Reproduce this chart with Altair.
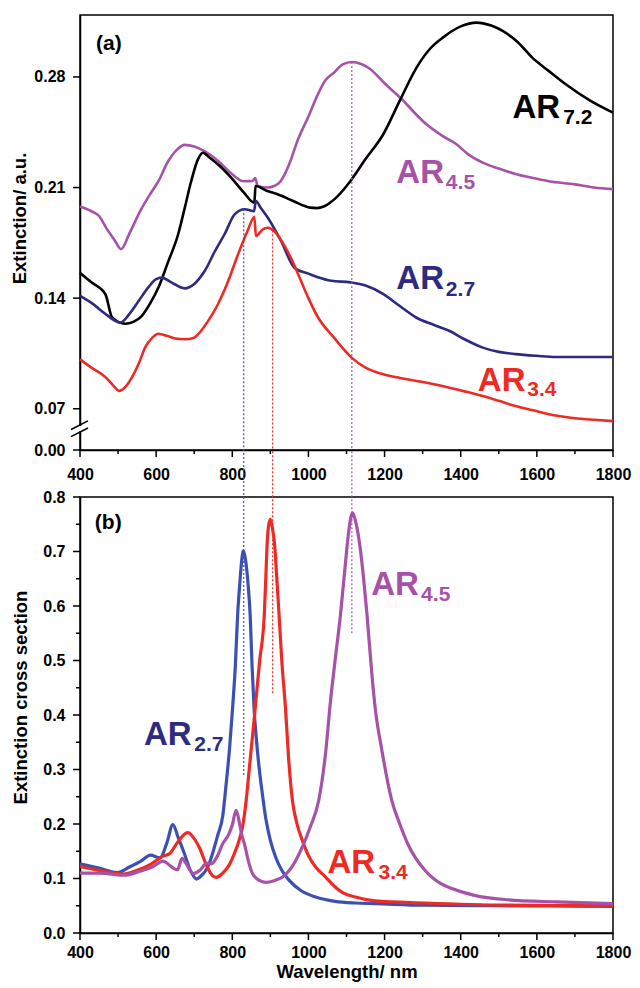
import altair as alt
import pandas as pd

FONT = "Liberation Sans"
PURPLE = "#A652A8"
BLACK = "#000000"
NAVY = "#2E2B7F"
RED = "#EE2A24"
BLUE = "#3C50B4"

# ---------------- Panel (a): measured extinction (wavelength nm, a.u.) ----------------
a_ar45 = [(400, 0.198), (430, 0.195), (450, 0.192), (470, 0.184), (490, 0.177), (508, 0.171),
          (530, 0.181), (560, 0.196), (590, 0.208), (606, 0.214), (630, 0.226), (655, 0.234),
          (675, 0.237), (700, 0.236), (727, 0.233), (762, 0.227), (797, 0.219), (830, 0.214),
          (853, 0.2142), (860, 0.216), (867, 0.211), (893, 0.210), (910, 0.211), (927, 0.214),
          (950, 0.225), (971, 0.2395), (1000, 0.255), (1023, 0.268), (1045, 0.278), (1067, 0.2827),
          (1090, 0.288), (1114, 0.2895), (1140, 0.288), (1162, 0.285), (1200, 0.276), (1249, 0.265),
          (1280, 0.257), (1310, 0.250), (1350, 0.243), (1388, 0.2376), (1420, 0.231), (1458, 0.2258),
          (1500, 0.222), (1544, 0.2186), (1590, 0.216), (1631, 0.214), (1700, 0.212), (1750, 0.210),
          (1800, 0.209)]
a_ar72 = [(400, 0.156), (430, 0.150), (467, 0.1423), (484, 0.128), (519, 0.1238), (540, 0.125),
          (562, 0.1287), (585, 0.137), (606, 0.1467), (630, 0.162), (658, 0.1806), (675, 0.197),
          (692, 0.214), (710, 0.228), (723, 0.232), (740, 0.229), (770, 0.223), (797, 0.2163),
          (830, 0.207), (858, 0.2004), (861, 0.211), (890, 0.208), (919, 0.2057), (960, 0.2015),
          (1005, 0.1973), (1023, 0.197), (1040, 0.198), (1070, 0.203), (1110, 0.214), (1150, 0.228),
          (1197, 0.2439), (1240, 0.265), (1284, 0.2859), (1320, 0.298), (1353, 0.3049), (1400, 0.312),
          (1441, 0.3144), (1480, 0.3125), (1510, 0.3091), (1550, 0.302), (1588, 0.2922), (1630, 0.284),
          (1675, 0.2755), (1740, 0.265), (1800, 0.2574)]
a_ar27 = [(400, 0.1414), (430, 0.137), (467, 0.130), (490, 0.126), (506, 0.1245), (530, 0.130),
          (554, 0.1382), (580, 0.147), (600, 0.152), (615, 0.153), (640, 0.150), (675, 0.1462),
          (700, 0.149), (727, 0.157), (755, 0.170), (780, 0.1806), (806, 0.193), (832, 0.1963),
          (853, 0.1952), (857, 0.195), (862, 0.2015), (875, 0.197), (893, 0.191), (928, 0.1762),
          (964, 0.159), (1000, 0.1555), (1023, 0.1534), (1060, 0.151), (1110, 0.150), (1150, 0.148),
          (1197, 0.1426), (1240, 0.135), (1284, 0.1276), (1330, 0.123), (1371, 0.1192), (1410, 0.114),
          (1458, 0.1087), (1500, 0.106), (1544, 0.1046), (1600, 0.1035), (1650, 0.1028), (1700, 0.1028),
          (1800, 0.1028)]
a_ar34 = [(400, 0.1013), (430, 0.096), (467, 0.090), (490, 0.084), (502, 0.0813), (520, 0.084),
          (536, 0.0897), (555, 0.099), (571, 0.1087), (590, 0.115), (606, 0.1175), (630, 0.116),
          (650, 0.1145), (675, 0.114), (700, 0.115), (710, 0.1171), (735, 0.125), (762, 0.136),
          (788, 0.150), (814, 0.167), (840, 0.1825), (858, 0.1914), (862, 0.1794), (880, 0.1835),
          (893, 0.1846), (910, 0.1825), (940, 0.172), (955, 0.165), (975, 0.154), (1000, 0.140),
          (1023, 0.1287), (1067, 0.115), (1114, 0.1022), (1150, 0.096), (1197, 0.0918), (1240, 0.0895),
          (1284, 0.0876), (1330, 0.0855), (1371, 0.0833), (1410, 0.081), (1458, 0.078), (1500, 0.075),
          (1544, 0.0717), (1590, 0.069), (1631, 0.0665), (1700, 0.064), (1750, 0.063), (1800, 0.0622)]

# ---------------- Panel (b): calculated extinction cross section ----------------
b_ar27 = [(400, 0.127), (450, 0.119), (500, 0.111), (530, 0.121), (560, 0.132), (585, 0.143),
          (610, 0.138), (628, 0.165), (644, 0.199), (658, 0.175), (672, 0.150), (690, 0.115),
          (706, 0.099), (720, 0.106), (735, 0.120), (762, 0.180), (775, 0.215), (784, 0.274),
          (793, 0.340), (801, 0.415), (808, 0.490), (814, 0.583), (820, 0.644), (825, 0.685),
          (829, 0.701), (834, 0.688), (841, 0.644), (847, 0.583), (852, 0.490), (857, 0.415),
          (864, 0.350), (871, 0.300), (880, 0.250), (888, 0.210), (900, 0.170), (914, 0.139),
          (930, 0.115), (949, 0.097), (980, 0.078), (1019, 0.066), (1070, 0.058), (1123, 0.055),
          (1175, 0.054), (1300, 0.051), (1500, 0.050), (1800, 0.049)]
b_ar34 = [(400, 0.122), (450, 0.115), (514, 0.108), (550, 0.115), (583, 0.125), (618, 0.141),
          (636, 0.146), (653, 0.163), (668, 0.177), (683, 0.184), (698, 0.175), (714, 0.156),
          (735, 0.120), (750, 0.104), (758, 0.102), (775, 0.110), (792, 0.125), (805, 0.145),
          (818, 0.170), (827, 0.195), (836, 0.240), (845, 0.304), (853, 0.360), (862, 0.426),
          (872, 0.500), (884, 0.583), (888, 0.650), (891, 0.706), (895, 0.745), (900, 0.759),
          (905, 0.745), (912, 0.706), (917, 0.650), (923, 0.583), (930, 0.500), (940, 0.410),
          (948, 0.320), (958, 0.243), (970, 0.200), (984, 0.170), (1000, 0.142), (1019, 0.121),
          (1045, 0.1026), (1071, 0.084), (1090, 0.074), (1123, 0.066), (1175, 0.059), (1306, 0.055),
          (1523, 0.051), (1800, 0.050)]
b_ar45 = [(400, 0.110), (450, 0.110), (514, 0.106), (560, 0.114), (592, 0.122), (605, 0.128),
          (618, 0.132), (636, 0.124), (647, 0.118), (656, 0.116), (668, 0.137), (680, 0.126),
          (697, 0.109), (715, 0.115), (732, 0.128), (745, 0.127), (760, 0.140), (775, 0.164),
          (790, 0.180), (800, 0.198), (810, 0.225), (818, 0.205), (825, 0.180), (832, 0.163),
          (843, 0.130), (853, 0.109), (870, 0.097), (888, 0.093), (910, 0.096), (932, 0.1026),
          (960, 0.125), (984, 0.158), (1005, 0.195), (1027, 0.243), (1045, 0.330), (1058, 0.426),
          (1070, 0.500), (1084, 0.583), (1094, 0.655), (1101, 0.706), (1108, 0.748), (1116, 0.771),
          (1124, 0.755), (1136, 0.706), (1145, 0.650), (1154, 0.583), (1166, 0.480), (1175, 0.415),
          (1193, 0.335), (1219, 0.243), (1240, 0.200), (1262, 0.162), (1306, 0.115), (1349, 0.090),
          (1375, 0.082), (1436, 0.069), (1523, 0.061), (1653, 0.057), (1800, 0.054)]

# dotted guide lines: (wavelength, value where they stop in that panel, colour)
guides_a = [(830, 0.1963, BLUE), (906, 0.1828, RED), (1114, 0.2895, PURPLE)]
guides_b = [(830, 0.29, BLUE), (906, 0.44, RED), (1114, 0.55, PURPLE)]

# curve labels: (main text, x, y, subscript, x, y, colour)
labels_a = [("AR", 1536, 0.2540, "7.2", 1669, 0.2502, BLACK),
            ("AR", 1231, 0.2129, "4.5", 1361, 0.2091, PURPLE),
            ("AR", 1231, 0.1458, "2.7", 1361, 0.1414, NAVY),
            ("AR", 1445, 0.0812, "3.4", 1575, 0.0781, RED)]
labels_b = [("AR", 568, 0.345, "2.7", 700, 0.334, NAVY),
            ("AR", 1165, 0.620, "4.5", 1296, 0.609, PURPLE),
            ("AR", 1050, 0.111, "3.4", 1184, 0.100, RED)]

# axis tick positions
x_major = list(range(400, 1801, 200))
x_minor = list(range(500, 1800, 200))
ya_major = [0.0439, 0.07, 0.14, 0.21, 0.28]   # 0.0439 is where "0.00" sits below the break
yb_major = [round(i * 0.1, 1) for i in range(9)]
yb_minor = [round(0.05 + i * 0.1, 2) for i in range(8)]

W = 533
HA = 435
HB = 436
YA_MIN = 0.0439
YA_MAX = 0.3192
YB_TOP = 0.8 + 47 / 545.0   # dotted guides reach up to the bottom of panel (a)
T_MAJ = 7
T_MIN = 4

xs = alt.Scale(domain=[400, 1800], nice=False, zero=False)
ysa = alt.Scale(domain=[YA_MIN, YA_MAX], nice=False, zero=False)
ysb = alt.Scale(domain=[0, 0.8], nice=False, zero=False)


def long(name, pairs):
    return pd.DataFrame({"x": [p[0] for p in pairs], "y": [p[1] for p in pairs], "s": name})


def X(field="x:Q"):
    return alt.X(field, scale=xs)


def Y(ys, field="y:Q"):
    return alt.Y(field, scale=ys)


def label_layers(labels, ys):
    main = pd.DataFrame({"x": [l[1] for l in labels], "y": [l[2] for l in labels],
                         "t": [l[0] for l in labels], "c": [l[6] for l in labels]})
    sub = pd.DataFrame({"x": [l[4] for l in labels], "y": [l[5] for l in labels],
                        "t": [l[3] for l in labels], "c": [l[6] for l in labels]})
    m = alt.Chart(main).mark_text(font=FONT, fontWeight="bold", fontSize=33, align="left",
                                  baseline="alphabetic").encode(
        x=X(), y=Y(ys), text="t:N", fill=alt.Fill("c:N", scale=None))
    s = alt.Chart(sub).mark_text(font=FONT, fontWeight="bold", fontSize=21, align="left",
                                 baseline="alphabetic").encode(
        x=X(), y=Y(ys), text="t:N", fill=alt.Fill("c:N", scale=None))
    return [m, s]


def tick_layers(ys, height, y_major, y_minor):
    """Outward tick marks placed through the scales (major 7 px, minor 4 px)."""
    out = []
    for vals, size in ((x_major, T_MAJ), (x_minor, T_MIN)):
        out.append(alt.Chart(pd.DataFrame({"x": vals})).mark_rule(
            color="black", strokeWidth=1.5).encode(
            x=X(), y=alt.value(height), y2=alt.value(height + size)))
    for vals, size in ((y_major, T_MAJ), (y_minor, T_MIN)):
        if vals:
            out.append(alt.Chart(pd.DataFrame({"y": vals})).mark_rule(
                color="black", strokeWidth=1.5).encode(
                y=Y(ys), x=alt.value(0), x2=alt.value(-size)))
    return out


# ---------------- Panel (a) ----------------
df_a = pd.concat([long("AR4.5", a_ar45), long("AR7.2", a_ar72),
                  long("AR2.7", a_ar27), long("AR3.4", a_ar34)])

lines_a = alt.Chart(df_a).mark_line(strokeWidth=2.6, interpolate="monotone").encode(
    x=alt.X("x:Q", scale=xs,
            axis=alt.Axis(values=x_major, title=None, format="d", orient="bottom",
                          ticks=False, labelPadding=16, labelFlush=False,
                          labelOverlap=False, grid=False)),
    y=alt.Y("y:Q", scale=ysa,
            axis=alt.Axis(values=ya_major, title="Extinction/ a.u.", orient="left",
                          labelExpr="datum.value < 0.05 ? '0.00' : format(datum.value, '.2f')",
                          ticks=False, labelPadding=15, labelFlush=False,
                          labelOverlap=False, grid=False, titleX=-51, titleY=203)),
    color=alt.Color("s:N", scale=alt.Scale(domain=["AR4.5", "AR7.2", "AR2.7", "AR3.4"],
                                           range=[PURPLE, BLACK, NAVY, RED]), legend=None),
    detail="s:N")

ga = pd.DataFrame({"x": [g[0] for g in guides_a], "y": [g[1] for g in guides_a],
                   "y2": [YA_MIN] * len(guides_a), "c": [g[2] for g in guides_a]})
guide_a = alt.Chart(ga).mark_rule(strokeDash=[2, 2], strokeWidth=1.2).encode(
    x=X(), y=Y(ysa), y2="y2:Q", stroke=alt.Stroke("c:N", scale=None))

# axis break: white gap on the y axis and two slashes
gap = pd.DataFrame({"x": [400], "y": [0.0558], "y2": [0.0592]})
gap_mark = alt.Chart(gap).mark_rule(color="white", strokeWidth=5).encode(
    x=X(), y=Y(ysa), y2="y2:Q")
slashes = pd.DataFrame({"x": [376.5, 376.5], "x2": [421, 421],
                        "y": [0.0569, 0.0524], "y2": [0.0623, 0.0578]})
slash_mark = alt.Chart(slashes).mark_rule(color="black", strokeWidth=1.5).encode(
    x=X(), x2="x2:Q", y=Y(ysa), y2="y2:Q")

tag_a = alt.Chart(pd.DataFrame({"x": [442], "y": [0.297], "t": ["(a)"]})).mark_text(
    font=FONT, fontWeight="bold", fontSize=21, align="left", baseline="alphabetic",
    color="black").encode(x=X(), y=Y(ysa), text="t:N")

panel_a = alt.layer(lines_a, guide_a, gap_mark, slash_mark, tag_a,
                    *tick_layers(ysa, HA, ya_major, None),
                    *label_layers(labels_a, ysa)).properties(width=W, height=HA)

# ---------------- Panel (b) ----------------
# panel (b) series carry their own names so the two colour scales never mix
df_b = pd.concat([long("AR2.7b", b_ar27), long("AR3.4b", b_ar34), long("AR4.5b", b_ar45)])

lines_b = alt.Chart(df_b).mark_line(strokeWidth=3.2, interpolate="monotone").encode(
    x=alt.X("x:Q", scale=xs,
            axis=alt.Axis(values=x_major, title="Wavelength/ nm", format="d", orient="bottom",
                          ticks=False, labelPadding=11, labelFlush=False,
                          labelOverlap=False, grid=False, titleY=44,
                          titleBaseline="alphabetic")),
    y=alt.Y("y:Q", scale=ysb,
            axis=alt.Axis(values=yb_major, title="Extinction cross section", format=".1f",
                          orient="left", ticks=False, labelPadding=15,
                          labelFlush=False, labelOverlap=False, grid=False,
                          titleX=-50, titleY=200)),
    color=alt.Color("s:N", scale=alt.Scale(domain=["AR4.5b", "AR3.4b", "AR2.7b"],
                                           range=[PURPLE, RED, BLUE]), legend=None),
    detail="s:N")

gb = pd.DataFrame({"x": [g[0] for g in guides_b], "y": [g[1] for g in guides_b],
                   "y2": [YB_TOP] * len(guides_b), "c": [g[2] for g in guides_b]})
guide_b = alt.Chart(gb).mark_rule(strokeDash=[2, 2], strokeWidth=1.2).encode(
    x=X(), y=Y(ysb), y2="y2:Q", stroke=alt.Stroke("c:N", scale=None))

tag_b = alt.Chart(pd.DataFrame({"x": [439], "y": [0.741], "t": ["(b)"]})).mark_text(
    font=FONT, fontWeight="bold", fontSize=21, align="left", baseline="alphabetic",
    color="black").encode(x=X(), y=Y(ysb), text="t:N")

panel_b = alt.layer(lines_b, guide_b, tag_b,
                    *tick_layers(ysb, HB, yb_major, yb_minor),
                    *label_layers(labels_b, ysb)).properties(width=W, height=HB)

chart = alt.vconcat(panel_a, panel_b, spacing=47).properties(
    bounds="flush", padding={"left": 1, "top": 6, "right": 0, "bottom": 0}
).resolve_scale(color="independent").configure_view(
    stroke="black", strokeWidth=1.5
).configure_axis(
    labelFont=FONT, labelFontWeight="bold", labelFontSize=16, labelColor="black",
    titleFont=FONT, titleFontWeight="bold", titleFontSize=18.5, titleColor="black",
    domainColor="black", domainWidth=1.5
)

chart.save("out.html", embed_options={"renderer": "svg", "actions": False})
